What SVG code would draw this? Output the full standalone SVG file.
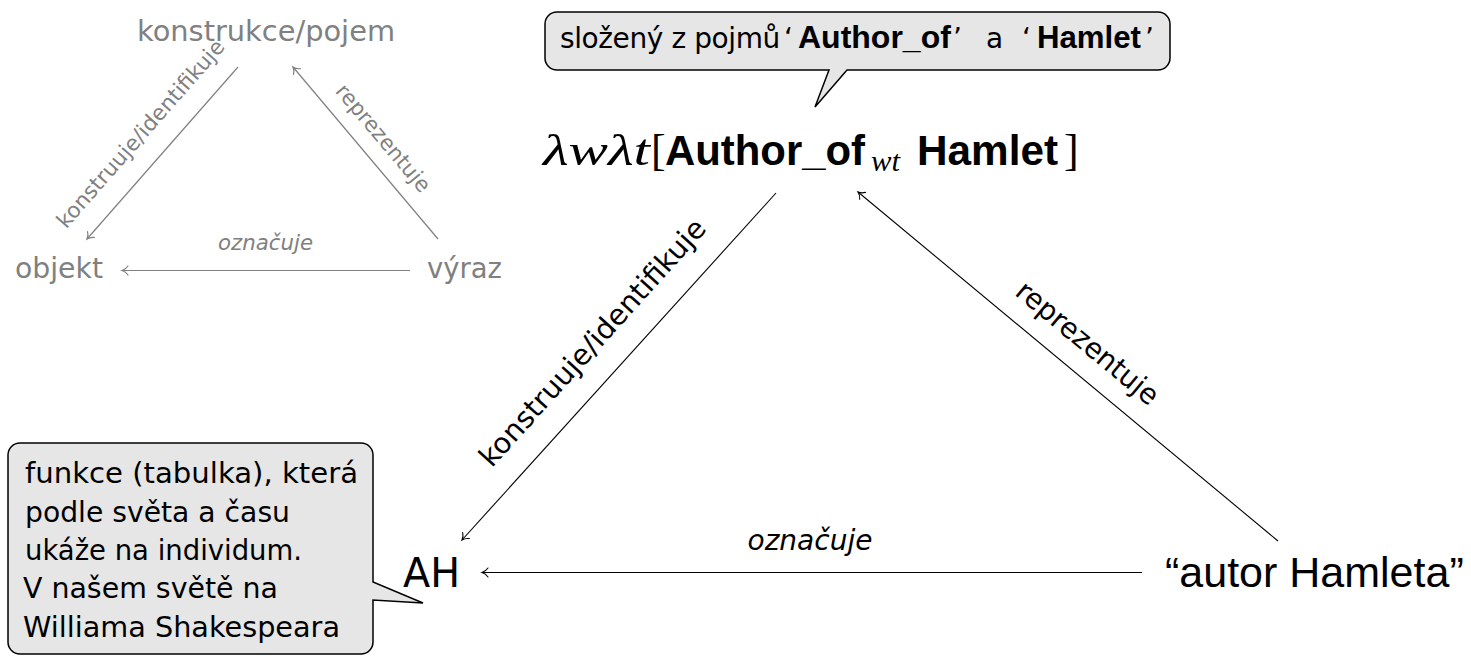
<svg xmlns="http://www.w3.org/2000/svg" width="1471" height="657" viewBox="0 0 1471 657">
<style>
.gray{fill:#808080;font-family:"DejaVu Sans",sans-serif}
.blk{fill:#000;font-family:"DejaVu Sans",sans-serif}
.it{font-style:italic}
.bold{font-family:"Liberation Sans",Arial,sans-serif;font-weight:bold;fill:#000}
.math{font-family:"Liberation Serif",serif;font-style:italic;fill:#000}
.rom{font-family:"Liberation Serif",serif;fill:#000}
.gl{stroke:#808080;stroke-width:1.2;fill:none}
.bl{stroke:#000;stroke-width:1.1;fill:none}
.bubble{fill:#e6e6e6;stroke:#000;stroke-width:1.5}
</style>
<defs>
<marker id="ag" markerUnits="userSpaceOnUse" markerWidth="14" markerHeight="14" viewBox="-8 -7 10 14" refX="0" refY="0" orient="auto" overflow="visible">
<path d="M-6,-4.5 C-4,-1.6 -1.6,-0.5 0,0 C-1.6,0.5 -4,1.6 -6,4.5" fill="none" stroke="#808080" stroke-width="1.2" stroke-linecap="round"/>
</marker>
<marker id="ab" markerUnits="userSpaceOnUse" markerWidth="14" markerHeight="14" viewBox="-8 -7 10 14" refX="0" refY="0" orient="auto" overflow="visible">
<path d="M-6,-4.5 C-4,-1.6 -1.6,-0.5 0,0 C-1.6,0.5 -4,1.6 -6,4.5" fill="none" stroke="#000" stroke-width="1.1" stroke-linecap="round"/>
</marker>
</defs>

<g id="connectors">
<line class="gl" x1="238" y1="67" x2="87" y2="239" marker-end="url(#ag)"/>
<line class="gl" x1="438" y1="239" x2="293" y2="67" marker-end="url(#ag)"/>
<line class="gl" x1="410" y1="270.5" x2="122" y2="270.5" marker-end="url(#ag)"/>
<line class="bl" x1="776" y1="193" x2="462" y2="540" marker-end="url(#ab)"/>
<line class="bl" x1="1278" y1="541" x2="858" y2="192" marker-end="url(#ab)"/>
<line class="bl" x1="1142" y1="572.5" x2="482" y2="572.5" marker-end="url(#ab)"/>
<text class="gray" font-size="21.5" text-anchor="middle" textLength="242" lengthAdjust="spacingAndGlyphs" transform="translate(146,138.5) rotate(-48.7)">konstruuje/identifikuje</text>
<text class="gray" font-size="21.5" text-anchor="middle" textLength="134" lengthAdjust="spacingAndGlyphs" transform="translate(377.7,142.7) rotate(49.9)">reprezentuje</text>
<text class="gray it" font-size="21" x="265.5" y="250" text-anchor="middle" textLength="95" lengthAdjust="spacingAndGlyphs">označuje</text>
<text class="blk" font-size="28.5" text-anchor="middle" textLength="322" lengthAdjust="spacingAndGlyphs" transform="translate(599.7,349.1) rotate(-47.9)">konstruuje/identifikuje</text>
<text class="blk" font-size="28.5" text-anchor="middle" textLength="176" lengthAdjust="spacingAndGlyphs" transform="translate(1081.4,350.4) rotate(39.7)">reprezentuje</text>
<text class="blk it" font-size="28" x="810" y="550" text-anchor="middle" textLength="125" lengthAdjust="spacingAndGlyphs">označuje</text>
</g>

<g id="node-konstrukce">
<text class="gray" font-size="28.5" x="137" y="41" textLength="258" lengthAdjust="spacingAndGlyphs">konstrukce/pojem</text>
</g>
<g id="node-objekt">
<text class="gray" font-size="28.5" x="15" y="278" textLength="88" lengthAdjust="spacingAndGlyphs">objekt</text>
</g>
<g id="node-vyraz">
<text class="gray" font-size="28.5" x="427" y="278" textLength="75" lengthAdjust="spacingAndGlyphs">výraz</text>
</g>

<g id="node-lambda">
<text class="math" font-size="44" x="543" y="165" textLength="107" lengthAdjust="spacingAndGlyphs">λwλt</text>
<text class="rom" font-size="44" x="651" y="165">[</text>
<text class="bold" font-size="43" x="665" y="165" textLength="200" lengthAdjust="spacingAndGlyphs">Author_of</text>
<text class="math" font-size="30" x="871" y="171" textLength="29" lengthAdjust="spacingAndGlyphs">wt</text>
<text class="bold" font-size="43" x="917" y="165" textLength="141" lengthAdjust="spacingAndGlyphs">Hamlet</text>
<text class="rom" font-size="44" x="1064" y="165">]</text>
</g>

<g id="node-AH">
<text class="blk" font-size="40" x="403" y="587" textLength="57" lengthAdjust="spacingAndGlyphs">AH</text>
</g>
<g id="node-autor">
<text font-family="Liberation Sans, Arial, sans-serif" font-size="43" fill="#000" x="1165" y="587">“autor Hamleta”</text>
</g>

<g id="callout-top">
<path class="bubble" d="M557,12 H1158 A12,12 0 0 1 1170,24 V58 A12,12 0 0 1 1158,70 H847 L815,107 L829,70 H557 A12,12 0 0 1 545,58 V24 A12,12 0 0 1 557,12 Z"/>
<text class="blk" font-size="28" y="48"><tspan x="560" letter-spacing="-0.4">složený z pojmů</tspan><tspan x="784">‘</tspan><tspan x="798" font-family="Liberation Sans, Arial, sans-serif" font-weight="bold" font-size="32">Author_of</tspan><tspan x="953">’</tspan><tspan x="986">a</tspan><tspan x="1022">‘</tspan><tspan x="1037" font-family="Liberation Sans, Arial, sans-serif" font-weight="bold" font-size="31.2">Hamlet</tspan><tspan x="1145">’</tspan></text>
</g>

<g id="callout-left">
<path class="bubble" d="M20,443 H361 A12,12 0 0 1 373,455 V582 L423,603 L373,600 V642 A12,12 0 0 1 361,654 H20 A12,12 0 0 1 8,642 V455 A12,12 0 0 1 20,443 Z"/>
<text class="blk" font-size="29" x="25" y="483" textLength="333" lengthAdjust="spacingAndGlyphs">funkce (tabulka), která</text>
<text class="blk" font-size="29" x="25" y="522" textLength="265" lengthAdjust="spacingAndGlyphs">podle světa a času</text>
<text class="blk" font-size="29" x="25" y="560" textLength="277" lengthAdjust="spacingAndGlyphs">ukáže na individum.</text>
<text class="blk" font-size="29" x="23" y="598" textLength="255" lengthAdjust="spacingAndGlyphs">V našem světě na</text>
<text class="blk" font-size="29" x="23" y="637" textLength="317" lengthAdjust="spacingAndGlyphs">Williama Shakespeara</text>
</g>
</svg>
